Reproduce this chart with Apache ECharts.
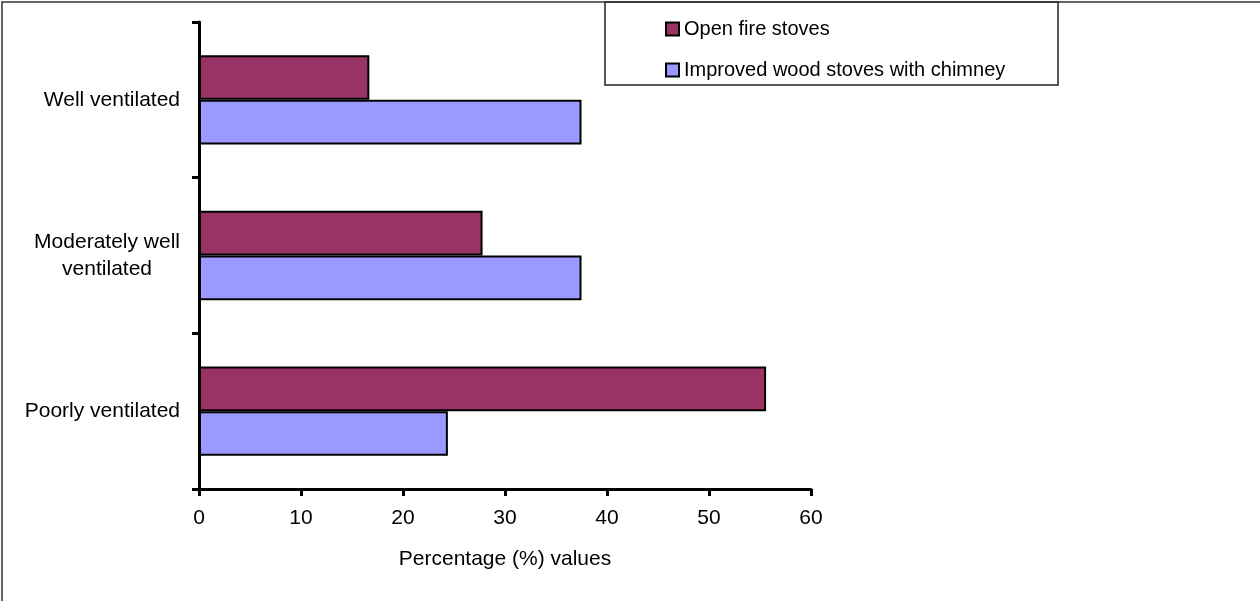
<!DOCTYPE html>
<html>
<head>
<meta charset="utf-8">
<script src="https://cdn.jsdelivr.net/npm/echarts@6/dist/echarts.min.js"></script>
<style>
  html, body { margin: 0; padding: 0; background: #ffffff; }
  #chart { width: 1260px; height: 601px; }
</style>
</head>
<body>
<div id="chart"></div>
<script>
// Ventilation categories, listed bottom to top along the vertical axis
const categories = ['Poorly ventilated', 'Moderately well\nventilated', 'Well ventilated'];
// Percentage of households per stove type
const openFireValues = [55.6, 27.8, 16.7];
const improvedStoveValues = [24.4, 37.5, 37.5];
const seriesNames = ['Open fire stoves', 'Improved wood stoves with chimney'];
const xTicks = { min: 0, max: 60, interval: 10 };

const FONT = '"Liberation Sans", Arial, sans-serif';
const chart = echarts.init(document.getElementById('chart'), null, { renderer: 'canvas' });

chart.setOption({
  backgroundColor: '#ffffff',
  animation: false,
  textStyle: { fontFamily: FONT, color: '#000' },
  graphic: [
    { type: 'rect', shape: { x: 2, y: 2, width: 1300, height: 700 },
      style: { fill: 'none', stroke: '#333', lineWidth: 1.5 }, silent: true },
    { type: 'rect', shape: { x: 605, y: 2, width: 453, height: 83 },
      style: { fill: '#fff', stroke: '#222', lineWidth: 1.5 }, silent: true, z: -1 }
  ],
  legend: {
    data: seriesNames,
    orient: 'vertical',
    left: 660,
    top: 14,
    icon: 'rect',
    itemWidth: 13,
    itemHeight: 13,
    itemGap: 21,
    textStyle: { fontFamily: FONT, fontSize: 20, color: '#000', lineHeight: 20 },
    selectedMode: false
  },
  grid: { left: 199, right: 449, top: 22, bottom: 112, containLabel: false },
  xAxis: {
    type: 'value',
    min: xTicks.min,
    max: xTicks.max,
    interval: xTicks.interval,
    name: 'Percentage (%) values',
    nameLocation: 'middle',
    nameGap: 60,
    nameTextStyle: { fontFamily: FONT, fontSize: 21, color: '#000' },
    axisLine: { show: true, lineStyle: { color: '#000', width: 3 } },
    axisTick: { show: true, length: 7, lineStyle: { color: '#000', width: 3 } },
    axisLabel: { fontFamily: FONT, fontSize: 21, color: '#000', margin: 19 },
    splitLine: { show: false }
  },
  yAxis: {
    type: 'category',
    data: categories,
    axisLine: { show: true, lineStyle: { color: '#000', width: 3 } },
    axisTick: { show: true, length: 7, alignWithLabel: false, lineStyle: { color: '#000', width: 3 } },
    axisLabel: {
      fontFamily: FONT, fontSize: 21, color: '#000', margin: 19, lineHeight: 27,
      formatter: function (v) {
        return v.split('\n').map(function (s) { return '{c|' + s + '}'; }).join('\n');
      },
      rich: { c: { align: 'center', fontFamily: FONT, fontSize: 21, color: '#000', lineHeight: 27 } }
    },
    splitLine: { show: false }
  },
  series: [
    {
      name: seriesNames[0],
      type: 'bar',
      data: openFireValues,
      barGap: '0%',
      barCategoryGap: '42.6%',
      itemStyle: { color: '#993366', borderColor: '#000', borderWidth: 2 }
    },
    {
      name: seriesNames[1],
      type: 'bar',
      data: improvedStoveValues,
      barGap: '0%',
      barCategoryGap: '42.6%',
      itemStyle: { color: '#9999FF', borderColor: '#000', borderWidth: 2 }
    }
  ]
});
</script>
</body>
</html>
